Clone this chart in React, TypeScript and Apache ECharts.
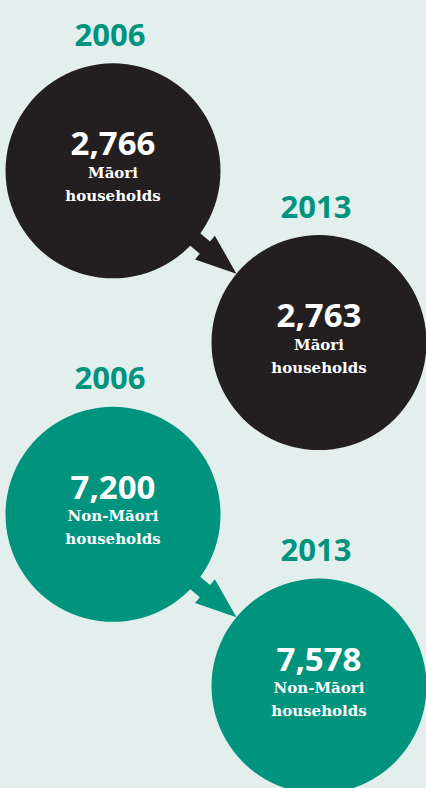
import React, { useEffect, useRef } from "react";
import * as echarts from "echarts";

const years = ["2006", "2013"];
const groups = ["Māori", "Non-Māori"];
const maoriHouseholds = [2766, 2763];
const nonMaoriHouseholds = [7200, 7578];
const rowLabels = ["Māori 2006", "Māori 2013", "Non-Māori 2006", "Non-Māori 2013"];
const groupColors = ["#231f20", "#00937d"];

const BG = "#e3efed";
const TEAL = "#00937d";

export default function App() {
  const ref = useRef<HTMLDivElement>(null);

  useEffect(() => {
    if (!ref.current) return;
    const chart = echarts.init(ref.current, undefined, { renderer: "svg" });

    const groupValues = [maoriHouseholds, nonMaoriHouseholds];
    const circleData: any[] = [];
    const yearData: any[] = [];
    const arrowData: any[] = [];
    groups.forEach((g, gi) => {
      years.forEach((y, yi) => {
        const row = gi * years.length + yi;
        circleData.push({
          value: [yi, row, groupValues[gi][yi]],
          groupName: g,
          itemStyle: { color: groupColors[gi], opacity: 1 },
        });
        yearData.push({ value: [yi, row], year: y });
      });
      arrowData.push({
        value: [0, gi * 2, 1, gi * 2 + 1],
        itemStyle: { color: groupColors[gi] },
      });
    });

    const R = 107.5;

    chart.setOption({
      animation: false,
      backgroundColor: BG,
      grid: { left: 10, right: 4, top: 85, bottom: 16 },
      xAxis: {
        type: "category",
        data: years,
        show: false,
        boundaryGap: true,
      },
      yAxis: {
        type: "category",
        data: rowLabels,
        show: false,
        inverse: true,
        boundaryGap: true,
      },
      series: [
        {
          type: "custom",
          silent: true,
          encode: { x: [0, 2], y: [1, 3] },
          data: arrowData,
          z: 1,
          renderItem: (params: any, api: any) => {
            const a = api.coord([api.value(0), api.value(1)]);
            const b = api.coord([api.value(2), api.value(3)]);
            const dx = b[0] - a[0];
            const dy = b[1] - a[1];
            const len = Math.sqrt(dx * dx + dy * dy);
            const ux = dx / len;
            const uy = dy / len;
            const nx = -uy;
            const ny = ux;
            const tipD = len - R;
            const baseD = tipD - 41;
            const startD = R - 8;
            const sw = 8;
            const hw = 15.5;
            const p = (d: number, w: number) => [a[0] + ux * d + nx * w, a[1] + uy * d + ny * w];
            const pts = [
              p(startD, -sw),
              p(baseD, -sw),
              p(baseD, -hw),
              p(tipD, 0),
              p(baseD, hw),
              p(baseD, sw),
              p(startD, sw),
            ];
            return {
              type: "polygon",
              shape: { points: pts },
              style: { fill: api.visual("color") },
            };
          },
        },
        {
          type: "scatter",
          silent: true,
          symbol: "circle",
          symbolSize: R * 2,
          data: circleData,
          z: 2,
          itemStyle: { opacity: 1 },
          emphasis: { disabled: true },
          label: {
            show: true,
            position: "inside",
            offset: [0, -5],
            formatter: (p: any) =>
              `{v|${Number(p.value[2]).toLocaleString("en-US")}}\n{t|${p.data.groupName}}\n{t|households}`,
            rich: {
              v: {
                fontFamily: "Open Sans",
                fontWeight: "bold",
                fontSize: 33,
                color: "#ffffff",
                lineHeight: 37,
                align: "center",
              },
              t: {
                fontFamily: "DejaVu Serif",
                fontWeight: "bold",
                fontSize: 15,
                color: "#ffffff",
                lineHeight: 23,
                align: "center",
              },
            },
          },
        },
        {
          type: "scatter",
          silent: true,
          symbol: "circle",
          symbolSize: 1,
          data: yearData,
          z: 3,
          itemStyle: { color: "rgba(0,0,0,0)", opacity: 1 },
          emphasis: { disabled: true },
          label: {
            show: true,
            position: "inside",
            offset: [-3, -137],
            formatter: (p: any) => p.data.year,
            fontFamily: "Open Sans",
            fontWeight: "bold",
            fontSize: 31,
            color: TEAL,
          },
        },
      ],
    });

    return () => chart.dispose();
  }, []);

  return (
    <div
      ref={ref}
      style={{ position: "fixed", left: 0, top: 0, width: 426, height: 788, background: BG }}
    />
  );
}
